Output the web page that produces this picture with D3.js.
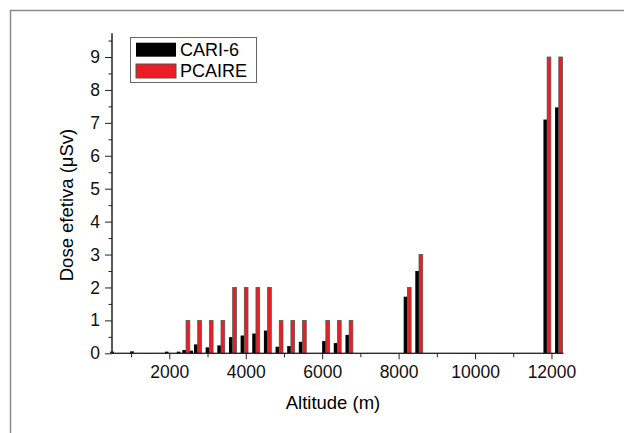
<!DOCTYPE html>
<html>
<head>
<meta charset="utf-8">
<script src="https://cdn.jsdelivr.net/npm/d3@7"></script>
<style>
  body { margin: 0; background: #fff; }
  svg { display: block; font-family: "Liberation Sans", Arial, sans-serif; }
  .axis path, .axis line { stroke: #222; }
  .axis text { fill: #111; }
</style>
</head>
<body>
<svg id="chart" width="624" height="433"></svg>
<script>
// altitude of each pair (m) and effective dose (uSv)
var altitudes = [550, 1070, 1980, 2290, 2438, 2620, 2743, 3048, 3353, 3658, 3962, 4267, 4572, 4877, 5182, 5486, 6096, 6400, 6706, 8230, 8534, 11887, 12192];
var cari6 = [0.05, 0.06, 0.05, 0.05, 0.1, 0.08, 0.27, 0.18, 0.24, 0.49, 0.54, 0.6, 0.69, 0.2, 0.22, 0.35, 0.37, 0.31, 0.56, 1.72, 2.5, 7.1, 7.47];
var pcaire = [0, 0, 0, 0, 1, 0, 1, 1, 1, 2, 2, 2, 2, 1, 1, 1, 1, 1, 1, 2, 3, 9, 9];
var seriesNames = ['CARI-6', 'PCAIRE'];
var xMajor = [2000, 4000, 6000, 8000, 10000, 12000];
var xMinor = [1000, 3000, 5000, 7000, 9000, 11000];
var yMajor = [0, 1, 2, 3, 4, 5, 6, 7, 8, 9];
var yMinor = [0.5, 1.5, 2.5, 3.5, 4.5, 5.5, 6.5, 7.5, 8.5, 9.5];

(function () {
  var svg = d3.select('#chart'),
      plotL = 112, plotR = 563.3, plotT = 33.3, plotB = 353.3,
      colors = ['#000000', '#ee1c24'];

  var x = d3.scaleLinear().domain([500, 12310]).range([plotL, plotR]),
      y = d3.scaleLinear().domain([0, 9.72]).range([plotB, plotT]),
      barW = x(597) - x(500);

  // outer frame (only top and left visible)
  svg.append('path')
    .attr('d', 'M10.5,433V10.5H624')
    .attr('fill', 'none')
    .attr('stroke', '#8a8a8a')
    .attr('stroke-width', 1.5);

  var rows = altitudes.map(function (a, i) {
    return { alt: a, c: cari6[i], p: pcaire[i] };
  });

  var bars = svg.append('g');
  // CARI-6 bars, left of the altitude
  bars.selectAll('rect.cari').data(rows).enter().append('rect')
    .attr('class', 'cari')
    .attr('x', function (d) { return x(d.alt) - barW; })
    .attr('y', function (d) { return y(d.c); })
    .attr('width', barW)
    .attr('height', function (d) { return plotB - y(d.c); })
    .attr('fill', colors[0]);

  // PCAIRE bars, right of the altitude
  bars.selectAll('rect.pcaire').data(rows.filter(function (d) { return d.p > 0; })).enter().append('rect')
    .attr('class', 'pcaire')
    .attr('x', function (d) { return x(d.alt); })
    .attr('y', function (d) { return y(d.p); })
    .attr('width', barW)
    .attr('height', function (d) { return plotB - y(d.p); })
    .attr('fill', colors[1])
    .attr('stroke', '#555')
    .attr('stroke-width', 0.8);

  // axes
  var xAxis = svg.append('g').attr('class', 'axis').attr('transform', 'translate(0,' + plotB + ')');
  xAxis.call(d3.axisBottom(x).tickValues(xMinor).tickSize(4).tickFormat(''));
  xAxis.append('g').call(d3.axisBottom(x).tickValues(xMajor).tickSize(6).tickPadding(6).tickFormat(d3.format('d')));
  xAxis.selectAll('path.domain').attr('d', 'M' + plotL + ',0H' + plotR);
  xAxis.selectAll('text').style('font-size', '17.5px');

  var yAxis = svg.append('g').attr('class', 'axis').attr('transform', 'translate(' + plotL + ',0)');
  yAxis.call(d3.axisLeft(y).tickValues(yMinor).tickSize(3.5).tickFormat(''));
  yAxis.append('g').call(d3.axisLeft(y).tickValues(yMajor).tickSize(7).tickPadding(5).tickFormat(d3.format('d')));
  yAxis.selectAll('path.domain').attr('d', 'M0,' + plotT + 'V' + plotB);
  yAxis.selectAll('text').style('font-size', '17.5px');

  // axis titles
  svg.append('text')
    .attr('x', 333).attr('y', 409)
    .attr('text-anchor', 'middle')
    .style('font-size', '18.5px')
    .text('Altitude (m)');

  svg.append('text')
    .attr('transform', 'translate(73,205) rotate(-90)')
    .attr('text-anchor', 'middle')
    .style('font-size', '18.5px')
    .text('Dose efetiva (\u03bcSv)');

  // legend
  var legend = svg.append('g');
  legend.append('rect')
    .attr('x', 130.5).attr('y', 37.5).attr('width', 126).attr('height', 45)
    .attr('fill', '#fff').attr('stroke', '#666').attr('stroke-width', 1);
  seriesNames.forEach(function (name, i) {
    legend.append('rect')
      .attr('x', 136).attr('y', 42.7 + i * 21.3).attr('width', 40).attr('height', 14)
      .attr('fill', colors[i])
      .attr('stroke', i ? '#555' : 'none');
    legend.append('text')
      .attr('x', 180).attr('y', 56 + i * 20.7)
      .style('font-size', '18px')
      .text(name);
  });
})();
</script>
</body>
</html>
